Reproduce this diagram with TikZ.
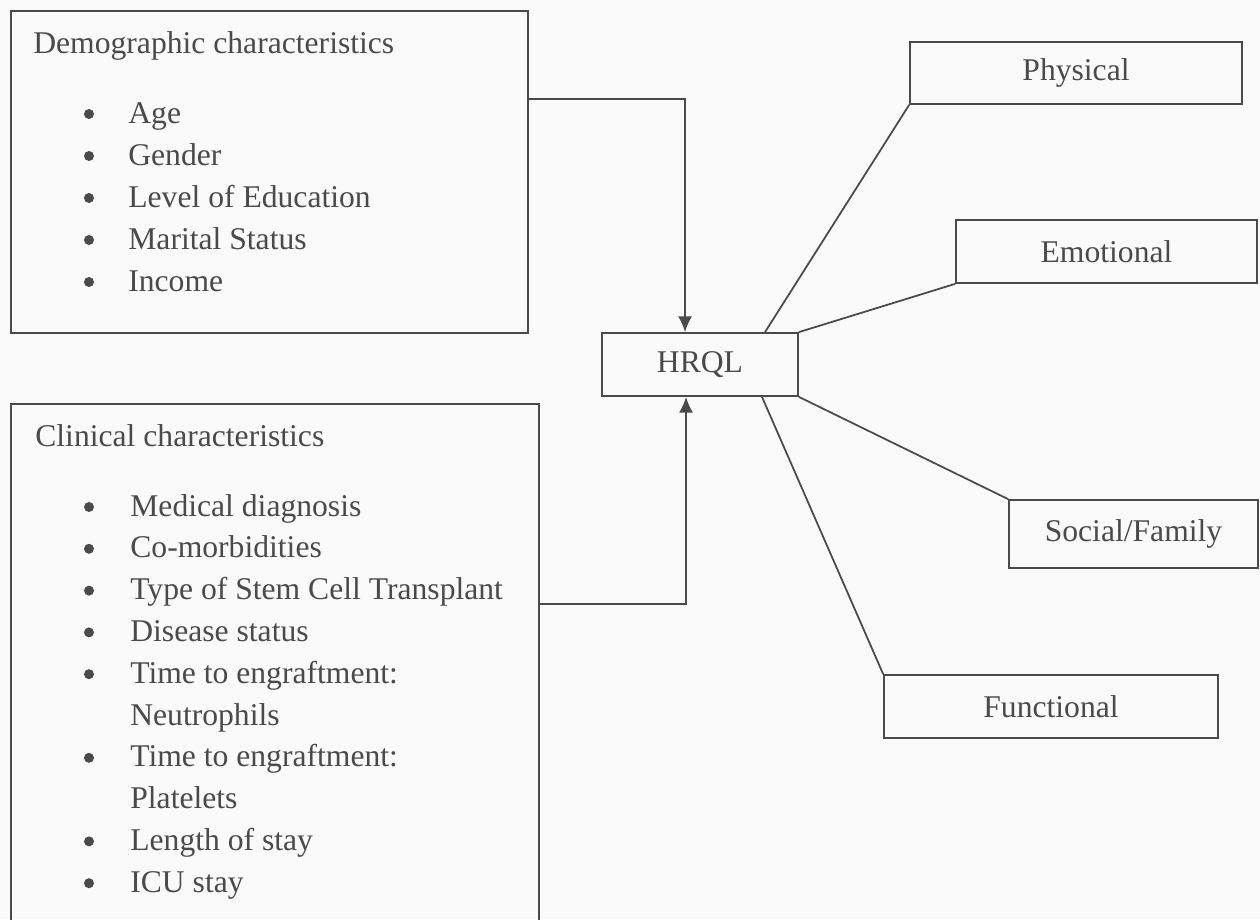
\documentclass[tikz,border=0pt]{standalone}
\usepackage{fontspec}
\setmainfont{Liberation Serif}
\usetikzlibrary{arrows.meta}
\definecolor{ink}{HTML}{4A4A4A}
\definecolor{paper}{HTML}{FAFAFA}
\tikzset{
  box/.style={draw=ink, line width=1pt, inner sep=0pt, text=ink, font=\fontsize{18}{21}\selectfont},
  txt/.style={text=ink, font=\fontsize{18}{21}\selectfont, inner sep=0pt, anchor=base west},
  dot/.style={circle, fill=ink, inner sep=0pt, minimum size=0.2cm},
  arr/.style={draw=ink, line width=1pt, -{Latex[length=9pt,width=8pt]}},
  link/.style={draw=ink, line width=1pt}
}

\begin{document}
\begin{tikzpicture}[x=0.02cm, y=-0.02cm]
\clip (0,0) rectangle (1260,919);
\fill[paper] (0,0) rectangle (1260,919);

% left boxes
\node[box, anchor=north west, minimum width=10.34cm, minimum height=6.44cm] (demo) at (10,10) {};
\node[box, anchor=north west, minimum width=10.56cm, minimum height=10.6cm] (clin) at (10,403) {};
\node[txt] (demotitle) at (33,54) {Demographic characteristics};
\node[txt] (clintitle) at (35,446) {Clinical characteristics};
\foreach \t [count=\i] in {Age, Gender, Level of Education, Marital Status, Income}{
  \node[dot] (demob\i) at (89,{114+42*(\i-1)}) {};
  \node[txt] (demoi\i) at (128,{123+42*(\i-1)}) {\t};
}
\foreach \t/\b [count=\i] in {Medical diagnosis/1, Co-morbidities/1, Type of Stem Cell Transplant/1,
    Disease status/1, Time to engraftment:/1, Neutrophils/0, Time to engraftment:/1, Platelets/0,
    Length of stay/1, ICU stay/1}{
  \ifnum\b=1 \node[dot] (clinb\i) at (89,{507+41.8*(\i-1)}) {};\fi
  \node[txt] (clini\i) at (130,{516+41.8*(\i-1)}) {\t};
}

% centre and outcome boxes
\node[box, minimum width=3.92cm, minimum height=1.26cm] (hrql) at (700,364.5) {HRQL};
\node[box, minimum width=6.64cm, minimum height=1.24cm] (phys) at (1076,73) {Physical};
\node[box, minimum width=6.02cm, minimum height=1.26cm] (emo) at (1106.5,251.5) {Emotional};
\node[box, minimum width=4.98cm, minimum height=1.36cm] (soc) at (1133.5,534) {Social/Family};
\node[box, minimum width=6.68cm, minimum height=1.26cm] (func) at (1051,706.5) {Functional};

% connectors
\draw[arr] ([yshift=-1.78cm]demo.north east) -| ([xshift=-0.3cm]hrql.north);
\draw[arr] ([yshift=-4.02cm]clin.north east) -| ([xshift=-0.28cm]hrql.south);
\draw[link] ([xshift=1.3cm]hrql.north) -- (phys.south west);
\draw[link] (hrql.north east) -- (emo.south west);
\draw[link] (hrql.south east) -- (soc.north west);
\draw[link] ([xshift=1.24cm]hrql.south) -- (func.north west);
\end{tikzpicture}
\end{document}
